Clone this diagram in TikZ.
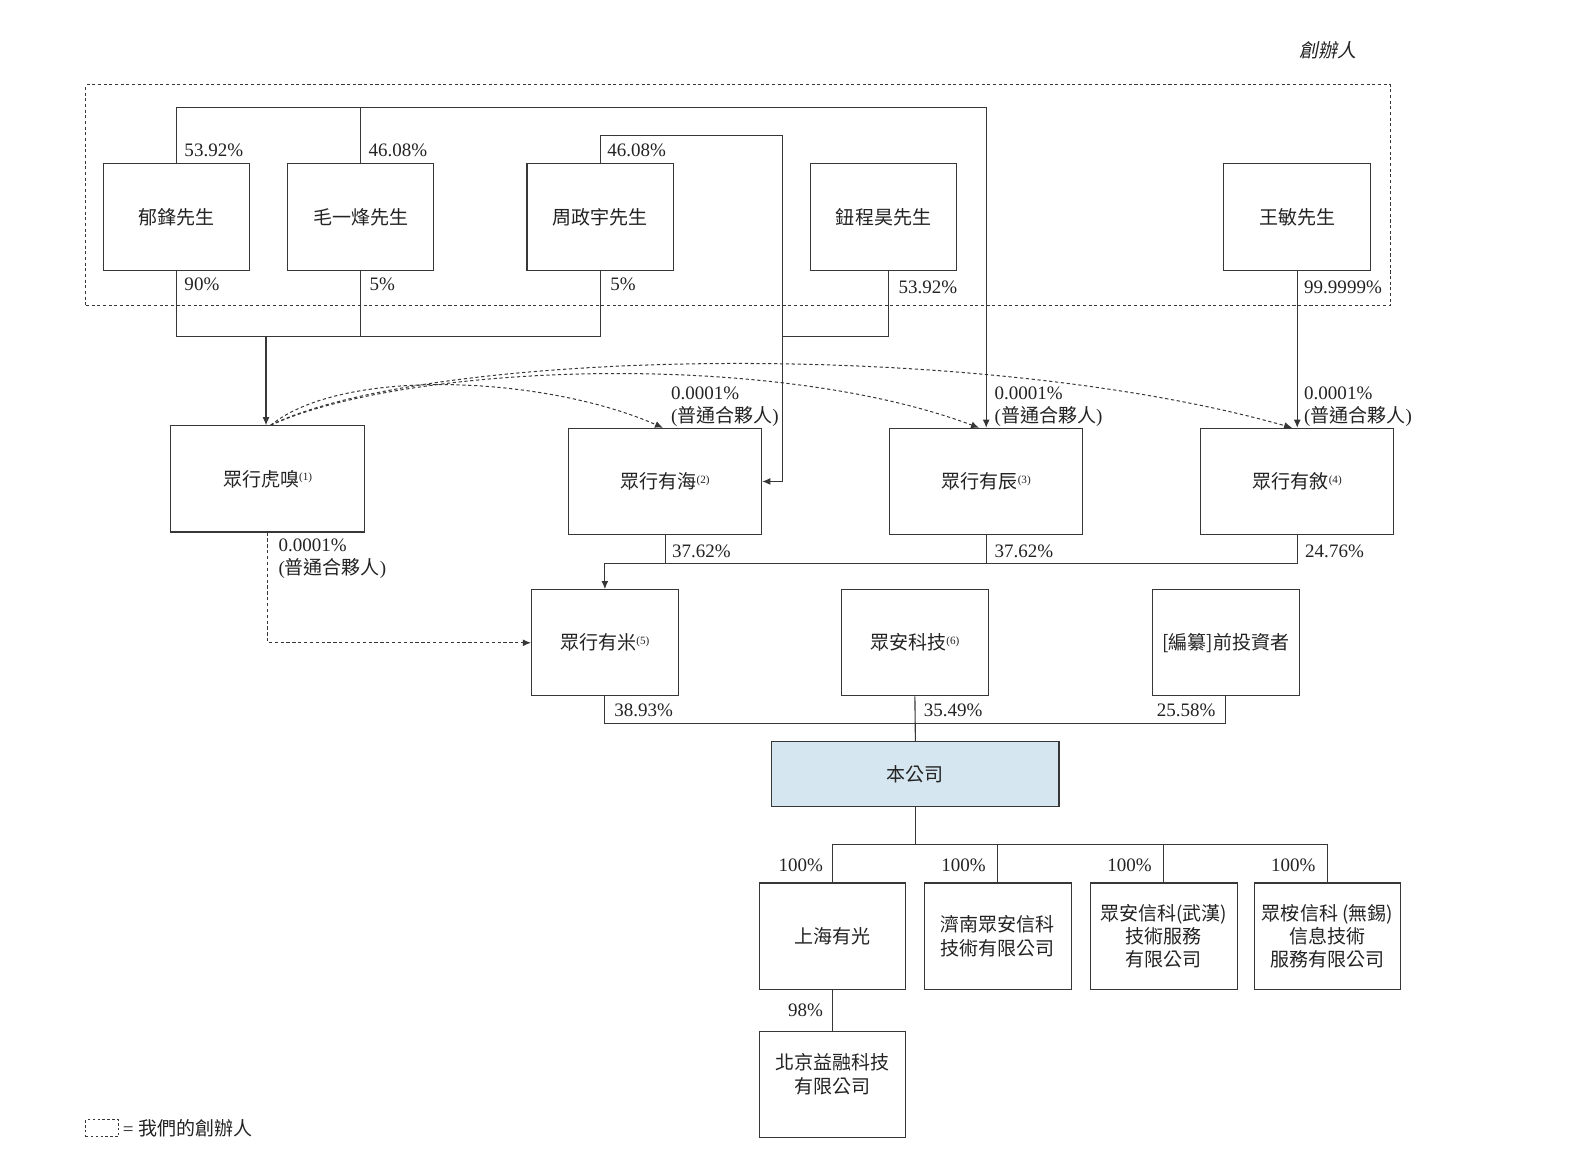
\documentclass[tikz,border=0pt]{standalone}
\usepackage{fontspec}
\setmainfont{Liberation Serif}
\newfontfamily\cjk{Noto Sans CJK TC}
\newfontfamily\cjkit[FakeSlant=0.2]{Noto Sans CJK TC}
\usetikzlibrary{arrows.meta}
\definecolor{linec}{RGB}{55,55,55}
\definecolor{txtc}{RGB}{35,35,35}
\definecolor{compfill}{RGB}{214,230,240}
\newcommand\fsz{\fontsize{9.4}{11.5}\selectfont}
\newcommand\supn[1]{{\rmfamily\fontsize{5.5}{6}\selectfont\raisebox{2.6pt}{(#1)}}}
\tikzset{
  box/.style={draw=linec, line width=0.55pt, minimum width=72.5pt, minimum height=52.5pt,
    inner sep=0pt, align=center, font=\cjk\fsz, text=txtc},
  wbox/.style={box, minimum width=95.5pt},
  conn/.style={draw=linec, line width=0.55pt},
  arr/.style={conn, -{Latex[length=4pt,width=3.4pt]}},
  dashc/.style={conn, line width=0.5pt, dash pattern=on 1.6pt off 1.3pt},
  darr/.style={dashc, -{Latex[length=4pt,width=3.4pt]}},
  pct/.style={inner sep=0pt, font=\fsz, text=txtc},
  gp/.style={inner sep=0pt, font=\fsz, text=txtc, align=left, anchor=north west},
}
\begin{document}
\begin{tikzpicture}[x=0.5pt,y=-0.5pt]
\useasboundingbox (0,0) rectangle (1568,1155);

% founders frame
\node[draw=linec, line width=0.5pt, dash pattern=on 1.5pt off 1.3pt, minimum width=645pt,
  minimum height=109pt, inner sep=0pt] (founders) at (730,193) {};
\node[font=\cjkit\fsz, text=txtc, inner sep=0pt] (title) at (1313,50) {創辦人};

% row 1
\node[box] (yu) at (174.5,214.5) {郁鋒先生};
\node[box] (mao) at (356.5,214.5) {毛一烽先生};
\node[box] (zhou) at (593.5,214.5) {周政宇先生};
\node[box] (niu) at (873.5,214.5) {鈕程昊先生};
\node[box] (wang) at (1282.5,214.5) {王敏先生};

% row 2
\node[wbox] (huxiu) at (264.5,473.5) {眾行虎嗅\supn{1}};
\node[wbox] (hai) at (657.5,476) {眾行有海\supn{2}};
\node[wbox] (chen) at (975,476) {眾行有辰\supn{3}};
\node[wbox] (xu) at (1282.5,476) {眾行有敘\supn{4}};

% row 3
\node[box] (mi) at (598,635.5) {眾行有米\supn{5}};
\node[box] (anke) at (904.5,635.5) {眾安科技\supn{6}};
\node[box] (pre) at (1212,635.5) {[編纂]前投資者};

% company
\node[box, fill=compfill, minimum width=142pt, minimum height=32pt] (gs) at (905,765) {本公司};

% row 4
\node[box] (s1) at (823,925.5) {上海有光};
\node[box] (s2) at (986.5,925.5) {濟南眾安信科\\技術有限公司};
\node[box] (s3) at (1150.5,925.5) {眾安信科(武漢)\\技術服務\\有限公司};
\node[box] (s4) at (1312.5,925.5) {眾桉信科 (無錫)\\信息技術\\服務有限公司};
\node[box] (bj) at (823,1072.5) {};
\node[font=\cjk\fsz, text=txtc, align=center, inner sep=0pt] (bjt) at (823,1062) {北京益融科技\\有限公司};

% junction points
\coordinate (t1) at (975,106);
\coordinate (t2) at (774,134);
\coordinate (j1) at (263,333);
\coordinate (t3) at (774,333);
\coordinate (m1) at (598,557);
\coordinate (c1) at (904.5,715);
\coordinate (c2) at (905,835);

% row 1 connectors
\draw[arr] (yu.north) |- (t1) -- (chen.north);
\draw[conn] (mao.north) -- (mao.north |- t1);
\draw[arr] (zhou.north) |- (t2) |- (hai.east);
\draw[conn] (yu.south) |- (zhou.south |- j1) -- (zhou.south);
\draw[conn] (mao.south) -- (mao.south |- j1);
\draw[arr] (j1) -- (j1 |- huxiu.north);
\draw[conn] ([xshift=2.25pt]niu.south) |- (t3);
\draw[arr] (wang.south) -- (wang.south |- xu.north);

% general partner dashed curves
\draw[darr] ([xshift=1.5pt]huxiu.north) .. controls (340,362) and (540,372) .. ([xshift=-1pt]hai.north);
\draw[darr] ([xshift=1.5pt]huxiu.north) .. controls (400,360) and (760,345) .. ([xshift=-3.5pt]chen.north);
\draw[darr] ([xshift=1.5pt]huxiu.north) .. controls (420,345) and (960,333) .. ([xshift=-2.5pt]xu.north);
\draw[darr] (huxiu.south) |- (mi.west);

% row 2 to row 3
\draw[arr] (xu.south) |- (m1) -- (mi.north);
\draw[conn] (hai.south) -- (hai.south |- m1);
\draw[conn] (chen.south) -- (chen.south |- m1);

% row 3 to company
\draw[conn] (mi.south) |- (pre.south |- c1) -- (pre.south);
\draw[conn] (anke.south) -- (gs.north);

% company to subsidiaries
\draw[conn] (gs.south) -- (c2);
\draw[conn] (s1.north) |- (s4.north |- c2) -- (s4.north);
\draw[conn] (s2.north) -- (s2.north |- c2);
\draw[conn] (s3.north) -- (s3.north |- c2);
\draw[conn] (s1.south) -- (bj.north);

% percentage labels
\node[pct, anchor=west] (l1) at (182,149) {53.92\%};
\node[pct, anchor=west] (l2) at (364,149) {46.08\%};
\node[pct, anchor=west] (l3) at (600,149) {46.08\%};
\node[pct, anchor=west] (l4) at (182,281) {90\%};
\node[pct, anchor=west] (l5) at (365,281) {5\%};
\node[pct, anchor=west] (l6) at (603,281) {5\%};
\node[pct, anchor=west] (l7) at (888,284) {53.92\%};
\node[pct, anchor=west] (l8) at (1289,284) {99.9999\%};

\node[gp] (g1) at (663,382) {0.0001\%\\({\cjk 普通合夥人})};
\node[gp] (g2) at (983,382) {0.0001\%\\({\cjk 普通合夥人})};
\node[gp] (g3) at (1289,382) {0.0001\%\\({\cjk 普通合夥人})};
\node[gp] (g4) at (275,532) {0.0001\%\\({\cjk 普通合夥人})};

\node[pct, anchor=west] (l9) at (664,545) {37.62\%};
\node[pct, anchor=west] (l10) at (983,545) {37.62\%};
\node[pct, anchor=west] (l11) at (1290,545) {24.76\%};
\node[pct, anchor=west] (l12) at (607,702) {38.93\%};
\node[pct, anchor=west] (l13) at (913,702) {35.49\%};
\node[pct, anchor=east] (l14) at (1202,702) {25.58\%};
\node[pct, anchor=east] (l15) at (814,855) {100\%};
\node[pct, anchor=east] (l16) at (975,855) {100\%};
\node[pct, anchor=east] (l17) at (1139,855) {100\%};
\node[pct, anchor=east] (l18) at (1301,855) {100\%};
\node[pct, anchor=east] (l19) at (814,999) {98\%};

% legend
\node[draw=linec, line width=0.5pt, dash pattern=on 1.2pt off 1.2pt, minimum width=16pt,
  minimum height=8.5pt, inner sep=0pt] (leg) at (101,1115.5) {};
\node[pct, anchor=west] (legt) at (121,1115) {= {\cjk 我們的創辦人}};
\end{tikzpicture}
\end{document}
